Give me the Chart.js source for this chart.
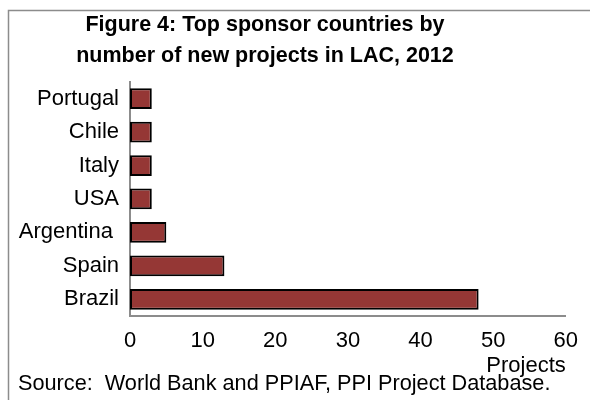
<!DOCTYPE html>
<html>
<head>
  <meta charset="UTF-8">
  <title>Top sponsor countries</title>
  <script src="https://cdn.jsdelivr.net/npm/chart.js"></script>
  <style>
    body { margin: 0; padding: 0; background-color: white; }
    #wrap { width: 590px; height: 400px; position: relative; }
  </style>
</head>
<body>
  <div id="wrap"><canvas id="grafica"></canvas></div>

  <script type="text/javascript">
    const paises = ['Portugal', 'Chile', 'Italy', 'USA', 'Argentina ', 'Spain', 'Brazil'];
    const proyectos = [3, 3, 3, 3, 5, 13, 48];
    const tituloLineas = ['Figure 4: Top sponsor countries by', 'number of new projects in LAC, 2012'];
    const fuente = 'Source:  World Bank and PPIAF, PPI Project Database.';

    const fontFam = 'Arial, "Liberation Sans", sans-serif';

    // marco gris, titulo algo a la izquierda y texto de fuente
    const marco = {
      id: 'marco',
      afterLayout(chart) {
        if (chart.titleBlock) {
          chart.titleBlock.left = 0;
          chart.titleBlock.right = 530;
        }
      },
      beforeDraw(chart) {
        const c = chart.ctx;
        c.save();
        c.strokeStyle = '#8c8c8c';
        c.lineWidth = 1.5;
        c.strokeRect(8.5, 10.5, 700, 500);
        c.restore();
      },
      afterDraw(chart) {
        const c = chart.ctx;
        c.save();
        c.fillStyle = '#000';
        c.font = '21.7px ' + fontFam;
        c.textBaseline = 'middle';
        c.fillText(fuente, 18, 384);
        c.restore();
      }
    };

    new Chart(document.getElementById('grafica'), {
      type: 'bar',
      data: {
        labels: paises,
        datasets: [{
          data: proyectos,
          backgroundColor: '#953735',
          borderColor: '#000',
          borderWidth: 2,
          borderSkipped: false,
          categoryPercentage: 0.62,
          barPercentage: 1
        }]
      },
      options: {
        indexAxis: 'y',
        responsive: true,
        maintainAspectRatio: false,
        animation: false,
        layout: { padding: { left: 0, right: 23, top: 0, bottom: 0 } },
        plugins: {
          legend: { display: false },
          tooltip: { enabled: false },
          title: {
            display: true,
            text: tituloLineas,
            color: '#000',
            font: { family: fontFam, size: 21.5, weight: 'bold', lineHeight: 1.44 },
            padding: { top: 10, bottom: 10 }
          }
        },
        scales: {
          x: {
            min: 0, max: 60,
            ticks: { stepSize: 10, color: '#000', padding: 12, font: { family: fontFam, size: 22 } },
            grid: { display: false, drawTicks: false },
            border: { display: true, color: '#8c8c8c', width: 2 },
            title: {
              display: true, text: 'Projects', align: 'end', color: '#000',
              font: { family: fontFam, size: 22 }, padding: { top: 0, bottom: 21 }
            },
            afterFit(scale) { scale.height = 84; }
          },
          y: {
            ticks: { color: '#000', padding: 11, font: { family: fontFam, size: 22 } },
            grid: { display: false, drawTicks: false },
            border: { display: true, color: '#8c8c8c', width: 2 },
            afterFit(scale) { scale.width = 130; }
          }
        }
      },
      plugins: [marco]
    });
  </script>
</body>
</html>
